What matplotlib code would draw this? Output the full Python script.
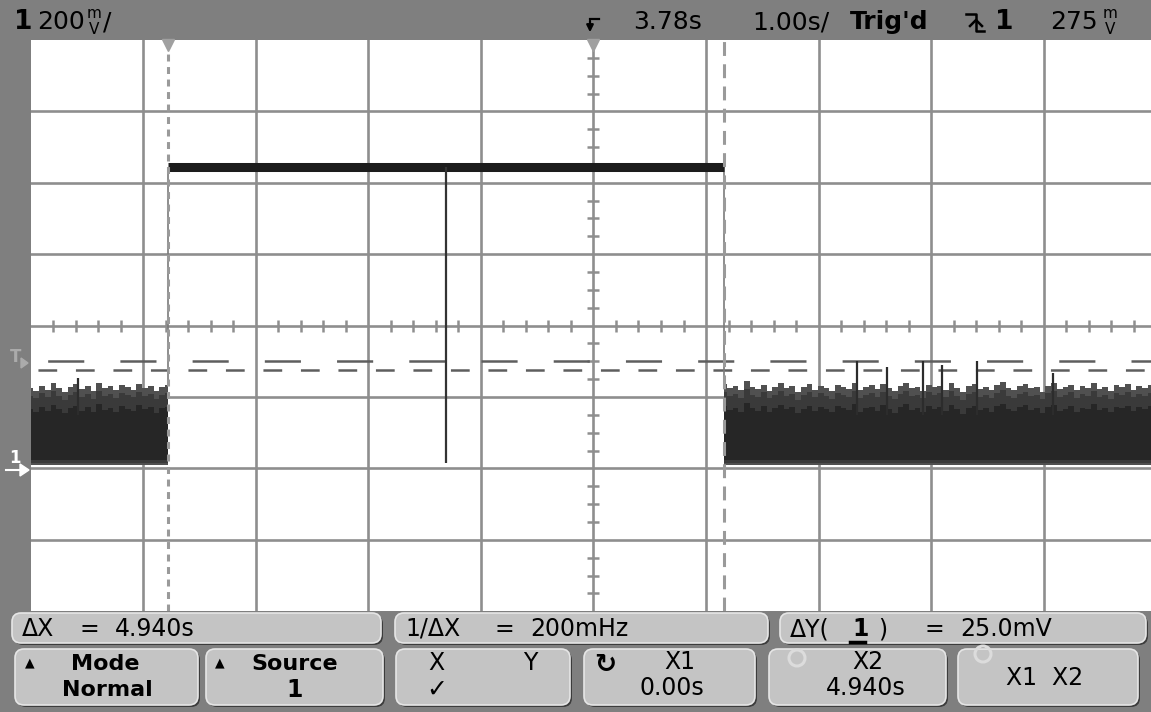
import numpy as np
import matplotlib.pyplot as plt
from matplotlib.patches import FancyBboxPatch, Polygon, Circle

plt.rcParams['font.family'] = ['DejaVu Sans']
plt.rcParams['lines.scale_dashes'] = False

# scope settings (time in s, voltage in mV)
t_left, t_right = -1.22, 8.78
t_center = 3.78
v_bottom, v_top = -400, 1200
x1_time, x2_time = 0.00, 4.94
y1_level, y2_level = 300, 275

# captured trace
high_level = 843
glitch_time = 2.47
glitch_low = 15
noise_floor = 10
noise_left_top = [225, 218, 232, 221, 238, 226, 214, 229, 236, 222, 231, 217, 240,
                  224, 230, 219, 234, 227, 221, 237, 225, 231, 216, 228, 233]
noise_right_top = [236, 224, 230, 219, 244, 228, 222, 235, 218, 229, 238, 225, 231,
                   214, 227, 236, 221, 232, 226, 217, 234, 229, 223, 240, 219, 228,
                   233, 222, 237, 226, 216, 231, 239, 224, 229, 218, 235, 227, 232,
                   221, 238, 225, 213, 230, 236, 223, 228, 219, 234, 241, 226, 220,
                   231, 237, 224, 229, 215, 232, 238, 222, 227, 235, 219, 230, 226,
                   240, 223, 229, 217, 233, 228, 236, 221, 231, 225, 234, 227]
spike_times = [-0.80, 6.12, 6.39, 6.71, 6.88, 7.19, 7.86]
spike_tops = [253, 300, 285, 300, 290, 300, 267]

fig = plt.figure(figsize=(11.51, 7.12), dpi=100, facecolor='#7f7f7f')

# --- graticule / trace area ---
ax = fig.add_axes([30.5 / 1151, 100.8 / 712, 1125.9 / 1151, 571.2 / 712])
ax.set_facecolor('white')
ax.set_xlim(t_left, t_right)
ax.set_ylim(v_bottom, v_top)
ax.set_xticks([])
ax.set_yticks([])
for s in ax.spines.values():
    s.set_visible(False)

grid_c = '#8e8e8e'
for k in range(1, 10):
    ax.axvline(t_left + k, color=grid_c, lw=1.9, zorder=1)
for k in range(1, 8):
    ax.axhline(v_bottom + 200 * k, color=grid_c, lw=1.9, zorder=1)

# minor ticks on the centre axes
mx = [t_left + 0.2 * k for k in range(51) if k % 5]
ax.plot(mx, [400] * len(mx), ls='none', marker='|', ms=8, mew=1.8, color=grid_c, zorder=1)
my = [v_bottom + 50 * k for k in range(33) if k % 4]
ax.plot([t_center] * len(my), my, ls='none', marker='_', ms=8, mew=1.8, color=grid_c, zorder=1)

# Y cursors
ax.axhline(y1_level, color='#5e5e5e', lw=1.8, ls=(40, (26, 26)), zorder=2)
ax.axhline(y2_level, color='#5e5e5e', lw=1.8, ls=(22, (13.5, 13.5)), zorder=2)

# noise bands
tl = np.linspace(t_left, x1_time, len(noise_left_top))
tr = np.linspace(x2_time, t_right, len(noise_right_top))
for tt, top in [(tl, noise_left_top), (tr, noise_right_top)]:
    top = np.array(top)
    ax.fill_between(tt, noise_floor, top, step='mid', color='#505050', lw=0, zorder=3)
    ax.fill_between(tt, noise_floor + 6, top - 22, step='mid', color='#3a3a3a', lw=0, zorder=3)
    ax.fill_between(tt, noise_floor + 14, top - 60, step='mid', color='#262626', lw=0, zorder=3)
ax.vlines(spike_times, 150, spike_tops, color='#2c2c2c', lw=1.6, zorder=3)

# high level + edges + glitch
ax.plot([x1_time, x2_time], [high_level, high_level], color='#1c1c1c', lw=6.5,
        solid_capstyle='butt', zorder=4)
ax.vlines([x1_time, x2_time], 230, high_level, color='#7a7a7a', lw=1.2, zorder=3)
ax.vlines([glitch_time], glitch_low, high_level, color='#333333', lw=1.6, zorder=4)

# X cursors
ax.axvline(x1_time, color='#9a9a9a', lw=2.2, ls=(0, (5, 4)), zorder=5)
ax.axvline(x2_time, color='#9a9a9a', lw=2.2, ls=(0, (10, 6)), zorder=5)
ax.plot([x1_time, t_center], [1185, 1185], ls='none', marker='v', ms=9,
        color='#a0a0a0', zorder=6, clip_on=False)

# --- overlay for the instrument UI (pixel coords) ---
ui = fig.add_axes([0, 0, 1, 1])
ui.set_xlim(0, 1151)
ui.set_ylim(712, 0)
ui.axis('off')
ui.patch.set_visible(False)

# top status line
ui.text(14, 22, '1', fontsize=19, fontweight='bold', va='center')
ui.text(37, 22, '200', fontsize=18, va='center')
ui.text(94, 14, 'm', fontsize=11, va='center', ha='center')
ui.text(94, 30, 'V', fontsize=11, va='center', ha='center')
ui.text(103, 22, '/', fontsize=18, va='center')

ui.plot([590, 599], [19, 19], color='black', lw=1.6)
ui.annotate('', xy=(590, 35), xytext=(590, 18),
            arrowprops=dict(arrowstyle='-|>', color='black', lw=1.6, mutation_scale=10))
ui.text(633, 22, '3.78s', fontsize=18, va='center')
ui.text(752, 22, '1.00s/', fontsize=18, va='center')
ui.text(850, 22, "Trig'd", fontsize=18, fontweight='bold', va='center')
ui.plot([966, 976, 976, 984], [14, 14, 31, 31], color='black', lw=1.8)
ui.plot([970, 976, 982], [26, 20, 26], color='black', lw=1.8)
ui.text(995, 22, '1', fontsize=19, fontweight='bold', va='center')
ui.text(1050, 22, '275', fontsize=18, va='center')
ui.text(1110, 14, 'm', fontsize=11, va='center', ha='center')
ui.text(1110, 30, 'V', fontsize=11, va='center', ha='center')

# left edge markers
ui.text(10, 357, 'T', fontsize=12, color='#ababab', va='center', fontweight='bold')
ui.add_patch(Polygon([[21, 358], [28, 363], [21, 368]], closed=True, color='#ababab'))
ui.text(9, 458, '1', fontsize=12, color='white', va='center', fontweight='bold')
ui.plot([6, 22], [470, 470], color='white', lw=1.5)
ui.add_patch(Polygon([[20, 464], [29, 470], [20, 476]], closed=True, color='white'))


def panel(x0, y0, x1, y1):
    ui.add_patch(FancyBboxPatch((x0 + 2, y0 + 2), x1 - x0, y1 - y0,
                                boxstyle='round,pad=0,rounding_size=9',
                                fc='#3c3c3c', ec='none'))
    ui.add_patch(FancyBboxPatch((x0, y0), x1 - x0, y1 - y0,
                                boxstyle='round,pad=0,rounding_size=9',
                                fc='#c4c4c4', ec='#e6e6e6', lw=1.2))


# measurement row
for b in [(12, 613, 381, 643), (395, 613, 768, 643), (780, 613, 1146, 643)]:
    panel(*b)
fs1 = 17
ui.text(22, 629, 'ΔX', fontsize=fs1, va='center')
ui.text(80, 629, '=', fontsize=fs1, va='center')
ui.text(115, 629, '4.940s', fontsize=fs1, va='center')
ui.text(405, 629, '1/ΔX', fontsize=fs1, va='center')
ui.text(495, 629, '=', fontsize=fs1, va='center')
ui.text(530, 629, '200mHz', fontsize=fs1, va='center')
ui.text(790, 629, 'ΔY(', fontsize=fs1, va='center')
ui.text(852, 629, '1', fontsize=fs1, va='center', fontweight='bold')
ui.plot([850, 865], [642, 642], color='black', lw=2.5)
ui.text(878, 629, ')', fontsize=fs1, va='center')
ui.text(925, 629, '=', fontsize=fs1, va='center')
ui.text(960, 629, '25.0mV', fontsize=fs1, va='center')

# softkey row
for b in [(15, 649, 198, 705), (206, 649, 383, 705), (396, 649, 570, 705),
          (584, 649, 755, 705), (769, 649, 946, 705), (958, 649, 1138, 705)]:
    panel(*b)
fs2 = 16
ui.text(30, 663, '▲', fontsize=9, va='center', ha='center')
ui.text(105, 664, 'Mode', fontsize=fs2, fontweight='bold', va='center', ha='center')
ui.text(107, 690, 'Normal', fontsize=fs2, fontweight='bold', va='center', ha='center')
ui.text(220, 663, '▲', fontsize=9, va='center', ha='center')
ui.text(295, 664, 'Source', fontsize=fs2, fontweight='bold', va='center', ha='center')
ui.text(295, 690, '1', fontsize=fs2 + 1, fontweight='bold', va='center', ha='center')
ui.text(436, 663, 'X', fontsize=fs2 + 1, va='center', ha='center')
ui.text(530, 663, 'Y', fontsize=fs2 + 1, va='center', ha='center')
ui.text(437, 690, '✓', fontsize=fs2 + 2, va='center', ha='center')
ui.text(605, 665, '↻', fontsize=19, fontweight='bold', va='center', ha='center')
ui.text(680, 662, 'X1', fontsize=fs2 + 1, va='center', ha='center')
ui.text(672, 688, '0.00s', fontsize=fs2 + 1, va='center', ha='center')
ui.add_patch(Circle((797, 658), 8, fc='none', ec='#dcdcdc', lw=2.2))
ui.text(868, 662, 'X2', fontsize=fs2 + 1, va='center', ha='center')
ui.text(866, 688, '4.940s', fontsize=fs2 + 1, va='center', ha='center')
ui.add_patch(Circle((983, 654), 8, fc='none', ec='#dcdcdc', lw=2.2))
ui.text(1045, 678, 'X1  X2', fontsize=fs2 + 1, va='center', ha='center')

fig.savefig('out.png', dpi=100, facecolor=fig.get_facecolor())
